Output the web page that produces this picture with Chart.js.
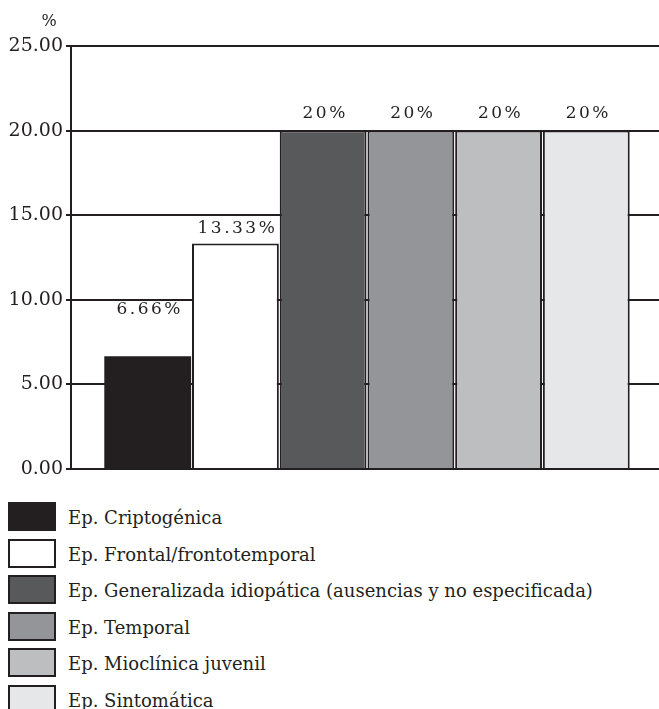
<!DOCTYPE html>
<html lang="es">
<head>
    <meta charset="UTF-8">
    <title>Tipos de epilepsia</title>
    <script src="https://cdn.jsdelivr.net/npm/chart.js@4.4.1/dist/chart.umd.min.js"></script>
    <style>
        body { margin: 0; background: #fff; font-family: "DejaVu Serif", serif; color: #231f20; }
        #wrap { position: relative; width: 659px; height: 490px; overflow: hidden; }
        #inner { position: relative; width: 663px; height: 490px; }
        #legend { position: absolute; left: 0; top: 502px; width: 659px; }
        .item { position: relative; height: 36.6px; }
        .box { position: absolute; left: 8px; top: 0; width: 44px; height: 25px; border: 2px solid #231f20; }
        .txt { position: absolute; left: 68px; top: 5px; font-size: 18px; line-height: 22px; white-space: nowrap; }
    </style>
</head>
<body>
    <div id="wrap"><div id="inner"><canvas id="chart_area"></canvas></div></div>
    <div id="legend"></div>
    <script>
        // datos
        var categories = [
            'Ep. Criptogénica',
            'Ep. Frontal/frontotemporal',
            'Ep. Generalizada idiopática (ausencias y no especificada)',
            'Ep. Temporal',
            'Ep. Mioclínica juvenil',
            'Ep. Sintomática'
        ];
        var values = [6.66, 13.33, 20, 20, 20, 20];
        var value_labels = ['6.66%', '13.33%', '20%', '20%', '20%', '20%'];
        var y_ticks = [0, 5, 10, 15, 20, 25];

        var fills = ['#231f20', '#ffffff', '#58595b', '#939598', '#bcbec0', '#e6e7e8'];
        var ink = '#231f20';

        // legend in html, one row per category
        var legend = document.getElementById('legend');
        for (var i = 0; i < categories.length; i++) {
            var row = document.createElement('div');
            row.className = 'item';
            row.innerHTML = '<div class="box" style="background:' + fills[i] + '"></div><div class="txt"></div>';
            row.children[1].innerText = categories[i];
            legend.appendChild(row);
        }

        var datasets = [];
        for (var i = 0; i < categories.length; i++) {
            datasets.push({
                label: categories[i],
                data: [values[i]],
                backgroundColor: fills[i],
                borderColor: ink,
                borderWidth: i == 0 ? 0 : 2,
                barPercentage: 0.99,
                categoryPercentage: 0.889
            });
        }

        // writes the % text over each bar and the "%" unit over the axis
        var bar_text = {
            id: 'bar_text',
            afterDatasetsDraw: function(chart, args, opts) {
                var ctx = chart.ctx;
                ctx.save();
                ctx.fillStyle = ink;
                ctx.font = '17px "DejaVu Serif"';
                ctx.textAlign = 'center';
                ctx.textBaseline = 'bottom';
                ctx.letterSpacing = '2.5px';
                chart.data.datasets.forEach(function(ds, i) {
                    var bar = chart.getDatasetMeta(i).data[0];
                    ctx.fillText(value_labels[i], bar.x + 2, bar.y - opts.gaps[i]);
                });
                ctx.letterSpacing = '0px';
                ctx.font = '16px "DejaVu Serif"';
                ctx.fillText('%', 49, 30);
                ctx.restore();
            }
        };

        new Chart(document.getElementById('chart_area'), {
            type: 'bar',
            data: { labels: [''], datasets: datasets },
            options: {
                responsive: true,
                maintainAspectRatio: false,
                animation: false,
                layout: { padding: { top: 46, right: 0, bottom: 21, left: 0 } },
                plugins: {
                    legend: { display: false },
                    tooltip: { enabled: false },
                    bar_text: { gaps: [38, 6, 9, 9, 9, 9] }
                },
                scales: {
                    x: { display: false },
                    y: {
                        min: 0,
                        max: 25,
                        afterBuildTicks: function(axis) {
                            axis.ticks = y_ticks.map(function(v) { return { value: v }; });
                        },
                        afterFit: function(axis) { axis.width = 71; },
                        ticks: {
                            color: ink,
                            font: { family: 'DejaVu Serif', size: 19 },
                            padding: 3,
                            callback: function(v) { return v.toFixed(2); }
                        },
                        grid: { color: ink, lineWidth: 2, tickLength: 5 },
                        border: { display: true, color: ink, width: 2 }
                    }
                }
            },
            plugins: [bar_text]
        });
    </script>
</body>
</html>
